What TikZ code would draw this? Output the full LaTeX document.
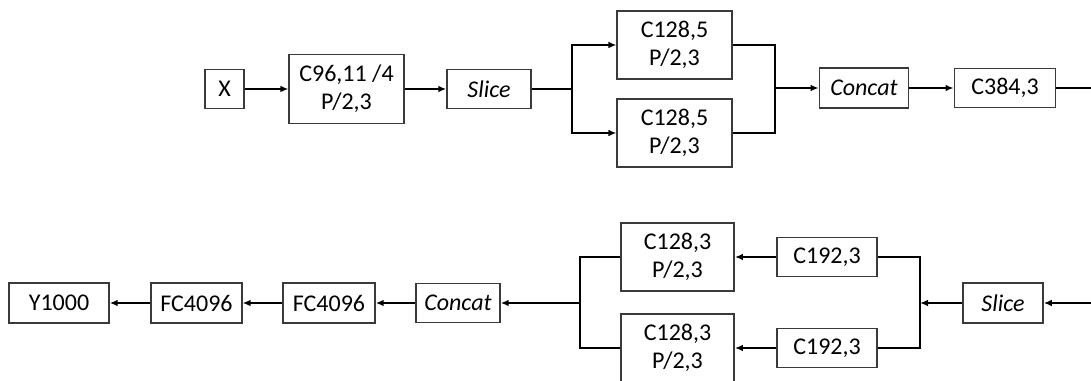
\documentclass[tikz,border=0pt]{standalone}
\usepackage{fontspec}
\setmainfont{Carlito}
\usepackage{tikz}
\usetikzlibrary{arrows.meta,positioning,calc}
\definecolor{Ink}{HTML}{000000}
\definecolor{BoxLine}{HTML}{3A3A3A}

\begin{document}
\begin{tikzpicture}[x=0.75pt,y=-0.75pt,
  layer/.style={draw=BoxLine,line width=1.1pt,fill=white,inner sep=0pt,align=center,font=\fontsize{18}{21}\selectfont},
  op/.style={layer,font=\fontsize{18}{21}\selectfont\itshape},
  wire/.style={line width=1.3pt,draw=Ink},
  edge/.style={-{Latex[length=6pt,width=5pt]},wire}
]
  \useasboundingbox (0,0) rectangle (1091,381);
  % top row
  \node[layer,minimum width=29pt,minimum height=29pt] (x) at (224.5,89) {X};
  \node[layer,minimum width=86pt,minimum height=52pt] (c96) at (346.5,89) {C96,11 /4\\P/2,3};
  \node[op,minimum width=63pt,minimum height=29pt] (slice1) at (489,89) {Slice};
  \node[layer,minimum width=86pt,minimum height=51pt] (c128a) at (674.5,45) {C128,5\\P/2,3};
  \node[layer,minimum width=86pt,minimum height=51pt] (c128b) at (674.5,133) {C128,5\\P/2,3};
  \node[op,minimum width=67pt,minimum height=30pt] (concat1) at (864,88) {Concat};
  \node[layer,minimum width=76pt,minimum height=29pt] (c384) at (1005,88) {C384,3};
  \coordinate (s1) at (572,89);
  \coordinate (m1) at (775,88);
  \coordinate (outR) at (1091,88);
  \draw[edge] (x) -- (c96);
  \draw[edge] (c96) -- (slice1);
  \draw[wire] (slice1) -- (s1);
  \draw[edge] (s1) |- (c128a.west);
  \draw[edge] (s1) |- (c128b.west);
  \draw[wire] (c128a.east) -| (m1);
  \draw[wire] (c128b.east) -| (m1);
  \draw[edge] (m1) -- (concat1);
  \draw[edge] (concat1) -- (c384);
  \draw[wire] (c384) -- (outR);
  % bottom row
  \node[layer,minimum width=75pt,minimum height=30pt] (y1000) at (59,303) {Y1000};
  \node[layer,minimum width=68pt,minimum height=30pt] (fc1) at (196.5,303) {FC4096};
  \node[layer,minimum width=69pt,minimum height=30pt] (fc2) at (329,303) {FC4096};
  \node[op,minimum width=63pt,minimum height=29pt] (concat2) at (458,303) {Concat};
  \node[layer,minimum width=85pt,minimum height=51pt] (c128c) at (677.5,257) {C128,3\\P/2,3};
  \node[layer,minimum width=85pt,minimum height=51pt] (c128d) at (677.5,348) {C128,3\\P/2,3};
  \node[layer,minimum width=75pt,minimum height=29pt] (c192a) at (827,257) {C192,3};
  \node[layer,minimum width=75pt,minimum height=29pt] (c192b) at (827,348) {C192,3};
  \node[op,minimum width=60pt,minimum height=30pt] (slice2) at (1003,303) {Slice};
  \coordinate (s2) at (920,303);
  \coordinate (m2) at (580,303);
  \coordinate (inR) at (1091,303);
  \draw[edge] (inR) -- (slice2);
  \draw[edge] (slice2) -- (s2);
  \draw[wire] (c192a.east) -| (s2);
  \draw[wire] (c192b.east) -| (s2);
  \draw[edge] (c192a) -- (c128c);
  \draw[edge] (c192b) -- (c128d);
  \draw[wire] (c128c.west) -| (m2);
  \draw[wire] (c128d.west) -| (m2);
  \draw[edge] (m2) -- (concat2);
  \draw[edge] (concat2) -- (fc2);
  \draw[edge] (fc2) -- (fc1);
  \draw[edge] (fc1) -- (y1000);
\end{tikzpicture}
\end{document}
